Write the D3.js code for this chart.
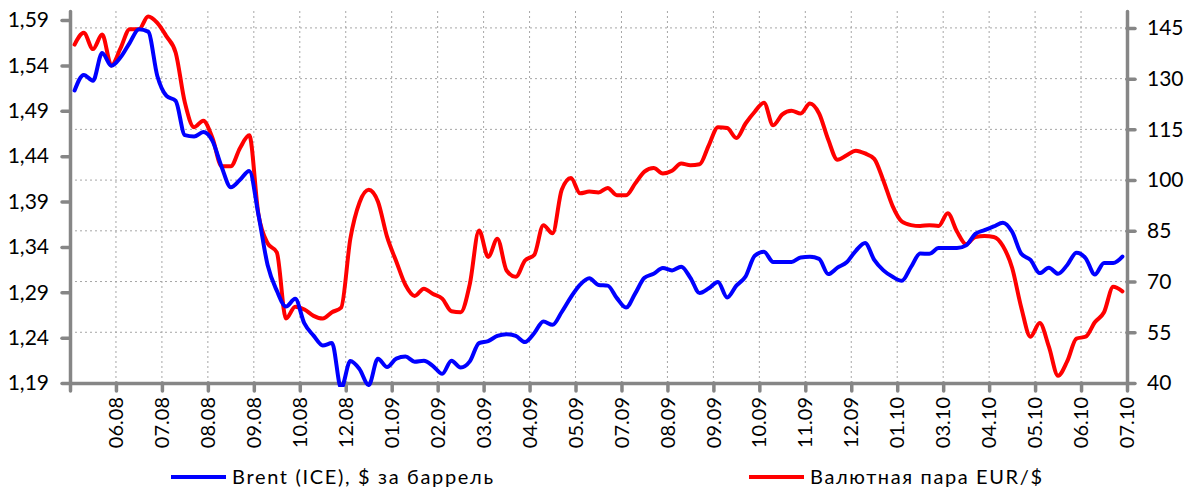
<!DOCTYPE html>
<html>
<head>
<meta charset="utf-8">
<script src="https://cdn.jsdelivr.net/npm/d3@7"></script>
<style>
  body { margin: 0; background: #fff; }
  svg { display: block; }
  text { font-family: Lato, "Open Sans", "DejaVu Sans", sans-serif; fill: #000; }
</style>
</head>
<body>
<svg id="chart" width="1191" height="494"></svg>
<script>
// Month labels along the category axis (one label every five observations)
const tickLabels = ["06.08","07.08","08.08","09.08","10.08","12.08","01.09","02.09","03.09","04.09",
  "05.09","07.09","08.09","09.09","10.09","11.09","12.09","01.10","03.10","04.10","05.10","06.10","07.10"];
const pointsPerTick = 5;

// Brent (ICE), $ per barrel — right axis
const brent = [126.5,131.1,129.4,137.6,133.8,136.3,140.6,144.6,143.9,130.8,
  124.9,123.4,113.3,112.9,114.2,111.6,103.9,97.9,100.1,102.7,
  89.8,74.9,67.3,62.6,64.9,57.6,54.0,51.1,51.8,38.5,
  46.5,44.1,39.4,47.2,44.7,47.2,47.8,46.3,46.6,45.0,
  42.7,46.6,44.6,46.4,51.8,52.4,53.9,54.4,53.9,52.1,
  54.7,58.2,57.2,61.0,65.4,69.1,71.0,69.0,68.8,65.1,
  62.3,66.5,71.1,72.3,74.0,73.3,74.4,71.1,66.6,68.0,
  69.9,65.3,68.8,71.5,77.6,78.8,75.8,75.8,75.8,77.1,
  77.3,76.7,72.2,74.1,75.7,79.1,81.4,76.4,73.3,71.4,
  70.2,74.3,78.3,78.2,79.9,79.9,79.9,80.7,84.1,85.2,
  86.3,87.4,84.7,78.2,76.4,72.5,74.1,72.3,74.9,78.5,
  76.9,72.1,75.5,75.5,77.4];

// EUR/USD exchange rate — left axis
const eurUsd = [1.563,1.576,1.558,1.574,1.540,1.559,1.580,1.580,1.594,1.587,
  1.572,1.554,1.499,1.472,1.479,1.460,1.429,1.429,1.449,1.463,
  1.376,1.344,1.334,1.261,1.274,1.271,1.264,1.261,1.268,1.273,
  1.349,1.389,1.403,1.390,1.351,1.324,1.298,1.286,1.294,1.288,
  1.283,1.269,1.268,1.299,1.358,1.329,1.349,1.314,1.307,1.325,
  1.331,1.364,1.355,1.403,1.416,1.399,1.401,1.400,1.405,1.397,
  1.397,1.410,1.423,1.427,1.421,1.424,1.432,1.430,1.431,1.452,
  1.472,1.471,1.460,1.476,1.489,1.499,1.474,1.486,1.490,1.487,
  1.498,1.487,1.458,1.436,1.441,1.446,1.443,1.437,1.413,1.385,
  1.368,1.364,1.363,1.364,1.363,1.377,1.357,1.343,1.351,1.352,
  1.351,1.341,1.317,1.273,1.241,1.256,1.230,1.198,1.214,1.239,
  1.241,1.257,1.268,1.296,1.291];

const leftTicks = [1.19,1.24,1.29,1.34,1.39,1.44,1.49,1.54,1.59];
const rightTicks = [40,55,70,85,100,115,130,145];

const seriesNames = ["Brent (ICE), $ за баррель", "Валютная пара EUR/$"];
const seriesColors = ["#0000ff", "#ff0000"];

const plot = { left: 70, right: 1127, top: 11, bottom: 383 };
const axisColor = "#868686";
const gridColor = "#a6a6a6";

const svg = d3.select("#chart");
const n = brent.length;

const x = d3.scaleLinear().domain([0, n]).range([plot.left, plot.right]);
const yL = d3.scaleLinear().domain([1.19, 1.60]).range([plot.bottom, plot.top]);
const yR = d3.scaleLinear().domain([40, 150]).range([plot.bottom, plot.top]);

const xTickValues = d3.range(0, tickLabels.length + 1).map(j => j * pointsPerTick);

// Gridlines
const grid = svg.append("g");
grid.selectAll("line.h").data(rightTicks.filter(d => d > 40)).join("line")
  .attr("x1", plot.left).attr("x2", plot.right)
  .attr("y1", d => yR(d)).attr("y2", d => yR(d))
  .attr("stroke", gridColor).attr("stroke-width", 1).attr("stroke-dasharray", "2,3");
grid.selectAll("line.v").data(xTickValues.filter(d => d > 0 && d < n)).join("line")
  .attr("x1", d => x(d)).attr("x2", d => x(d))
  .attr("y1", plot.top).attr("y2", plot.bottom)
  .attr("stroke", gridColor).attr("stroke-width", 1).attr("stroke-dasharray", "2,3");

function styleAxis(g) {
  g.select(".domain").attr("stroke", axisColor).attr("stroke-width", 3.5).attr("stroke-linecap", "round");
  g.selectAll(".tick line").attr("stroke", axisColor).attr("stroke-width", 3.5).attr("stroke-linecap", "round");
  g.selectAll(".tick text").attr("font-size", 21).attr("fill", "#000")
    .style("font-family", 'Lato, "Open Sans", sans-serif');
}

// Left axis (EUR/USD)
svg.append("g").attr("transform", `translate(${plot.left},0)`)
  .call(d3.axisLeft(yL).tickValues(leftTicks).tickSize(8).tickSizeOuter(0).tickPadding(13)
    .tickFormat(d => d.toFixed(2).replace(".", ",")))
  .call(styleAxis);

// Right axis (Brent)
svg.append("g").attr("transform", `translate(${plot.right},0)`)
  .call(d3.axisRight(yR).tickValues(rightTicks).tickSize(8).tickSizeOuter(0).tickPadding(12))
  .call(styleAxis);

// Bottom category axis
const xAxisG = svg.append("g").attr("transform", `translate(0,${plot.bottom})`)
  .call(d3.axisBottom(x).tickValues(xTickValues).tickSize(8).tickSizeOuter(0)
    .tickFormat(d => d === 0 ? "" : tickLabels[d / pointsPerTick - 1]))
  .call(styleAxis);
xAxisG.selectAll(".tick text")
  .attr("font-size", 20)
  .attr("text-anchor", "end")
  .attr("transform", "translate(0,14) rotate(-90)")
  .attr("x", 0).attr("y", 0).attr("dy", "0.33em");

// Lines
svg.append("clipPath").attr("id", "plotClip").append("rect")
  .attr("x", plot.left).attr("y", plot.top)
  .attr("width", plot.right - plot.left).attr("height", plot.bottom - plot.top + 4);

const lineL = d3.line().x((d, i) => x(i + 0.5)).y(d => yL(d)).curve(d3.curveMonotoneX);
const lineR = d3.line().x((d, i) => x(i + 0.5)).y(d => yR(d)).curve(d3.curveMonotoneX);

const lines = svg.append("g").attr("clip-path", "url(#plotClip)");
lines.append("path").datum(eurUsd).attr("d", lineL)
  .attr("fill", "none").attr("stroke", seriesColors[1]).attr("stroke-width", 4)
  .attr("stroke-linejoin", "round").attr("stroke-linecap", "round");
lines.append("path").datum(brent).attr("d", lineR)
  .attr("fill", "none").attr("stroke", seriesColors[0]).attr("stroke-width", 4)
  .attr("stroke-linejoin", "round").attr("stroke-linecap", "round");

// Legend
const legendItems = [
  { name: seriesNames[0], color: seriesColors[0], x: 171, width: 261 },
  { name: seriesNames[1], color: seriesColors[1], x: 749, width: 232 }
];
const legend = svg.append("g");
legendItems.forEach(item => {
  legend.append("line")
    .attr("x1", item.x).attr("x2", item.x + 55)
    .attr("y1", 477).attr("y2", 477)
    .attr("stroke", item.color).attr("stroke-width", 4);
  legend.append("text")
    .attr("x", item.x + 61).attr("y", 484)
    .attr("font-size", 20)
    .attr("textLength", item.width).attr("lengthAdjust", "spacing")
    .text(item.name);
});
</script>
</body>
</html>
